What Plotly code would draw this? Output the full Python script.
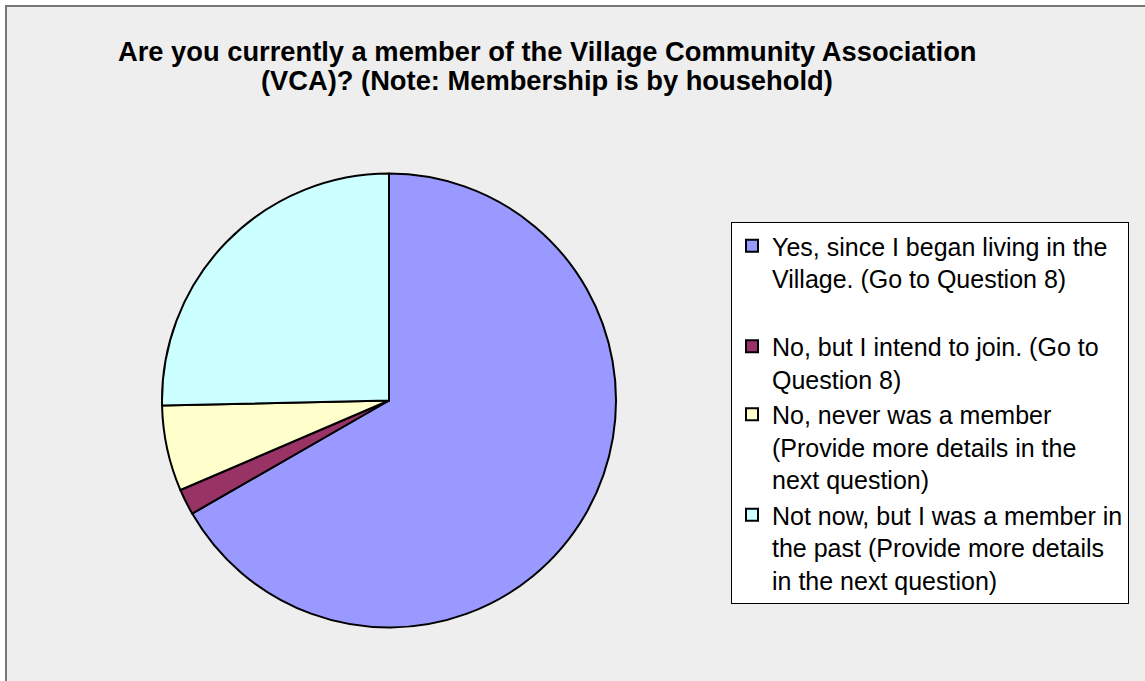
import plotly.graph_objects as go

# Survey answers (share of households, %)
answers = [
    "Yes, since I began living in the<br>Village. (Go to Question 8)",
    "No, but I intend to join. (Go to<br>Question 8)",
    "No, never was a member<br>(Provide more details in the<br>next question)",
    "Not now, but I was a member in<br>the past (Provide more details<br>in the next question)",
]
shares = [66.7, 1.85, 6.1, 25.35]
slice_colors = ["#9999FF", "#993366", "#FFFFCC", "#CCFFFF"]
title_lines = [
    "Are you currently a member of the Village Community Association",
    "(VCA)? (Note: Membership is by household)",
]

W, H = 1145, 681

# extra blank line under the first entry to open up the legend spacing
legend_pad = ["<br> ", "", "", ""]
legend_labels = [a + p for a, p in zip(answers, legend_pad)]

# pie circle: centre (389, 400.5), radius 227 px
cx, cy, r = 389, 400.5, 227
dom_x = [(cx - r) / W, (cx + r) / W]
dom_y = [1 - (cy + r) / H, 1 - (cy - r) / H]

fig = go.Figure(
    go.Pie(
        labels=legend_labels,
        values=shares,
        sort=False,
        direction="clockwise",
        rotation=0,
        textinfo="none",
        hoverinfo="percent",
        marker=dict(colors=slice_colors, line=dict(color="black", width=2)),
        domain=dict(x=dom_x, y=dom_y),
    )
)

# chart-area frame
fig.add_shape(
    type="rect", xref="paper", yref="paper",
    x0=6 / W, y0=-0.02, x1=1.02, y1=1 - 6 / H,
    fillcolor="#EEEEEE", line=dict(color="#777777", width=2), layer="below",
)

# two-line bold title, one annotation per line for tight line spacing
title_font = dict(family="Arial, Liberation Sans", size=27.3, color="black", weight="bold")
for line, yc in zip(title_lines, [51, 80]):
    fig.add_annotation(
        text=line, xref="paper", yref="paper", x=547 / W, y=1 - yc / H,
        xanchor="center", yanchor="middle", showarrow=False, font=title_font,
    )

fig.update_layout(
    width=W, height=H,
    margin=dict(l=0, r=0, t=0, b=0),
    paper_bgcolor="white",
    font=dict(family="Arial, Liberation Sans", color="black"),
    legend=dict(
        x=731 / W, y=1 - 222 / H, xanchor="left", yanchor="top",
        bgcolor="white", bordercolor="black", borderwidth=1,
        font=dict(family="Arial, Liberation Sans", size=25, color="black"),
        valign="top", itemwidth=30,
    ),
)

fig.write_html("out.html")
